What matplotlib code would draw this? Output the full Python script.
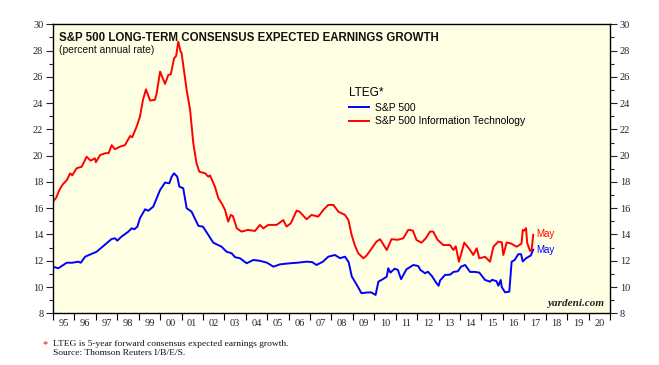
import matplotlib.pyplot as plt
from matplotlib.ticker import MultipleLocator, FixedLocator, NullFormatter

# S&P 500 Information Technology LTEG (decimal year, percent)
it_years = [1995.05, 1995.15, 1995.3, 1995.45, 1995.65, 1995.8, 1995.9, 1996.1, 1996.34, 1996.57,
            1996.76, 1996.96, 1997.0, 1997.2, 1997.43, 1997.6, 1997.74, 1997.89, 1998.13, 1998.36,
            1998.6, 1998.7, 1998.9, 1999.06, 1999.2, 1999.34, 1999.53, 1999.76, 1999.84, 2000.0,
            2000.23, 2000.38, 2000.5, 2000.65, 2000.75, 2000.85, 2000.96, 2001.0, 2001.24, 2001.4,
            2001.55, 2001.7, 2001.83, 2002.1, 2002.25, 2002.33, 2002.56, 2002.72, 2002.9, 2003.03,
            2003.18, 2003.3, 2003.4, 2003.58, 2003.8, 2004.1, 2004.43, 2004.66, 2004.82, 2005.05,
            2005.44, 2005.75, 2005.9, 2006.1, 2006.37, 2006.5, 2006.84, 2007.07, 2007.38, 2007.62,
            2007.85, 2008.09, 2008.32, 2008.63, 2008.79, 2008.94, 2009.1, 2009.25, 2009.49, 2009.64,
            2009.88, 2010.1, 2010.27, 2010.4, 2010.58, 2010.8, 2011.1, 2011.35, 2011.58, 2011.8,
            2011.97, 2012.2, 2012.4, 2012.6, 2012.75, 2012.95, 2013.22, 2013.53, 2013.69, 2013.8,
            2013.95, 2014.2, 2014.47, 2014.62, 2014.78, 2014.9, 2015.17, 2015.4, 2015.56, 2015.79,
            2015.95, 2016.02, 2016.18, 2016.4, 2016.64, 2016.87, 2016.93, 2017.0, 2017.08, 2017.14,
            2017.27, 2017.34, 2017.42]
it_vals = [16.6, 16.8, 17.4, 17.8, 18.15, 18.66, 18.5, 19.04, 19.16, 19.92,
           19.62, 19.8, 19.5, 20.05, 20.18, 20.2, 20.8, 20.49, 20.69, 20.8,
           21.5, 21.4, 22.2, 22.97, 24.24, 25.05, 24.2, 24.25, 24.75, 26.4,
           25.46, 26.14, 26.2, 27.4, 27.6, 28.68, 27.9, 27.85, 25.0, 23.48,
           20.95, 19.42, 18.78, 18.66, 18.4, 18.5, 17.64, 16.76, 16.3, 15.87,
           14.98, 15.49, 15.4, 14.47, 14.22, 14.35, 14.27, 14.73, 14.47, 14.73,
           14.73, 15.1, 14.6, 14.85, 15.81, 15.75, 15.16, 15.49, 15.36, 15.87,
           16.25, 16.25, 15.74, 15.49, 15.1, 13.97, 13.13, 12.57, 12.19, 12.4,
           12.95, 13.46, 13.64, 13.3, 12.82, 13.64, 13.6, 13.71, 14.35, 14.3,
           13.58, 13.38, 13.7, 14.22, 14.22, 13.6, 13.2, 13.2, 12.82, 13.1,
           11.93, 13.38, 12.82, 12.44, 12.95, 12.19, 12.3, 11.93, 13.07, 13.46,
           13.4, 12.44, 13.4, 13.3, 13.07, 13.3, 14.35, 14.3, 14.48, 13.33,
           12.75, 12.8, 13.97]

# S&P 500 LTEG
spx_years = [1995.0, 1995.25, 1995.64, 1995.9, 1996.18, 1996.3, 1996.5, 1997.04, 1997.5, 1997.74,
             1997.9, 1998.0, 1998.2, 1998.52, 1998.67, 1998.8, 1998.94, 1999.06, 1999.3, 1999.45,
             1999.68, 2000.0, 2000.23, 2000.43, 2000.54, 2000.65, 2000.8, 2000.9, 2001.08, 2001.24,
             2001.47, 2001.79, 2002.0, 2002.25, 2002.48, 2002.87, 2003.1, 2003.34, 2003.5, 2003.73,
             2004.04, 2004.35, 2004.65, 2004.98, 2005.29, 2005.6, 2006.07, 2006.4, 2006.84, 2007.1,
             2007.3, 2007.6, 2007.85, 2008.16, 2008.4, 2008.63, 2008.8, 2008.95, 2009.17, 2009.4,
             2009.64, 2009.84, 2010.06, 2010.19, 2010.4, 2010.58, 2010.65, 2010.75, 2010.95, 2011.1,
             2011.25, 2011.5, 2011.82, 2012.05, 2012.15, 2012.37, 2012.5, 2012.68, 2012.9, 2013.0,
             2013.07, 2013.3, 2013.55, 2013.69, 2013.9, 2014.05, 2014.24, 2014.47, 2014.7, 2014.9,
             2015.17, 2015.4, 2015.5, 2015.7, 2015.79, 2015.9, 2015.95, 2016.1, 2016.3, 2016.41,
             2016.55, 2016.72, 2016.85, 2016.93, 2017.08, 2017.3, 2017.42]
spx_vals = [11.55, 11.43, 11.85, 11.85, 11.93, 11.85, 12.31, 12.69, 13.33, 13.66,
            13.71, 13.53, 13.84, 14.22, 14.47, 14.4, 14.6, 15.24, 15.92, 15.81,
            16.12, 17.39, 17.95, 17.9, 18.4, 18.66, 18.4, 17.64, 17.52, 16.0,
            15.74, 14.65, 14.6, 13.97, 13.38, 13.07, 12.69, 12.57, 12.27, 12.19,
            11.81, 12.06, 12.0, 11.86, 11.55, 11.73, 11.81, 11.85, 11.93, 11.9,
            11.68, 11.93, 12.31, 12.44, 12.2, 12.31, 11.9, 10.8, 10.2, 9.53,
            9.58, 9.6, 9.4, 10.41, 10.6, 10.79, 11.43, 11.1, 11.4, 11.3,
            10.6, 11.35, 11.68, 11.6, 11.3, 11.05, 11.17, 10.85, 10.3, 10.1,
            10.5, 10.92, 10.95, 11.15, 11.2, 11.55, 11.68, 11.15, 11.15, 11.1,
            10.54, 10.41, 10.55, 10.45, 10.1, 10.54, 10.0, 9.6, 9.65, 11.93,
            12.06, 12.5, 12.5, 11.95, 12.19, 12.4, 12.85]

year_labels = ["95", "96", "97", "98", "99", "00", "01", "02", "03", "04", "05", "06", "07",
               "08", "09", "10", "11", "12", "13", "14", "15", "16", "17", "18", "19", "20"]

RED = "#FF0000"
BLUE = "#0000FF"
SERIF = ["Liberation Serif", "DejaVu Serif"]
SANS = ["Liberation Sans", "DejaVu Sans"]

fig = plt.figure(figsize=(6.59, 3.65), dpi=100)
ax = fig.add_axes([0.0804, 0.1416, 0.8452, 0.7918])
ax.set_facecolor("#FFFFE3")

ax.plot(spx_years, spx_vals, color=BLUE, lw=1.4, label="S&P 500")
ax.plot(it_years, it_vals, color=RED, lw=1.4, label="S&P 500 Information Technology")

ax.set_xlim(1995, 2021)
ax.set_ylim(8, 30)

# y axis on both sides
ax.yaxis.set_major_locator(MultipleLocator(2))
ax.yaxis.set_minor_locator(MultipleLocator(1))
ax.tick_params(axis="y", which="both", direction="out", left=True, right=True,
               labelleft=True, labelright=True, labelsize=7.5, colors="#222233", pad=2)
ax.tick_params(axis="y", which="major", length=5, width=0.8)
ax.tick_params(axis="y", which="minor", length=3, width=0.8)

# x axis: ticks at year boundaries, labels centred on years
ax.xaxis.set_major_locator(FixedLocator(list(range(1995, 2022))))
ax.xaxis.set_major_formatter(NullFormatter())
ax.xaxis.set_minor_locator(FixedLocator([1995.5 + i for i in range(len(year_labels))]))
ax.set_xticklabels(year_labels, minor=True)
ax.tick_params(axis="x", which="major", direction="out", length=5, width=0.8,
               top=False, bottom=True)
ax.tick_params(axis="x", which="minor", length=0, labelsize=7.5, colors="#222233", pad=4)

for lab in ax.get_xticklabels(minor=True):
    lab.set_family(SERIF)
for t in ax.yaxis.get_major_ticks():
    t.label1.set_family(SERIF)
    t.label2.set_family(SERIF)

for s in ax.spines.values():
    s.set_linewidth(1.0)

# title block
ax.text(0.011, 0.975, "S&P 500 LONG-TERM CONSENSUS EXPECTED EARNINGS GROWTH",
        transform=ax.transAxes, ha="left", va="top", fontsize=8.3, fontweight="bold",
        family=SANS, color="#111111")
ax.text(0.011, 0.93, "(percent annual rate)", transform=ax.transAxes, ha="left", va="top",
        fontsize=7.4, family=SANS, color="#111111")

# legend
leg = ax.legend(loc="upper left", bbox_to_anchor=(0.532, 0.783), frameon=False,
                title="LTEG*", prop={"family": SANS, "size": 7.5}, handlelength=1.9,
                labelspacing=0.35, borderaxespad=0, handletextpad=0.6, borderpad=0)
leg.get_title().set_fontsize(8.5)
leg.get_title().set_family(SANS)
leg._legend_box.align = "left"

# end labels
ax.text(it_years[-1] + 0.15, 14.05, "May", color=RED, fontsize=7, family=SANS, va="center")
ax.text(spx_years[-1] + 0.15, 12.85, "May", color=BLUE, fontsize=7, family=SANS, va="center")

ax.text(0.99, 0.02, "yardeni.com", transform=ax.transAxes, ha="right", va="bottom",
        fontsize=8, style="italic", fontweight="bold", family=SERIF, color="#222222")

# footnote
fig.text(0.064, 0.068, "*", color=RED, fontsize=7.5, family=SERIF, va="top")
fig.text(0.081, 0.069, "LTEG is 5-year forward consensus expected earnings growth.\nSource: Thomson Reuters I/B/E/S.",
         fontsize=6.8, family=SERIF, color="#111111", linespacing=1.15, va="top")

fig.savefig("out.png", dpi=100, facecolor="white")
